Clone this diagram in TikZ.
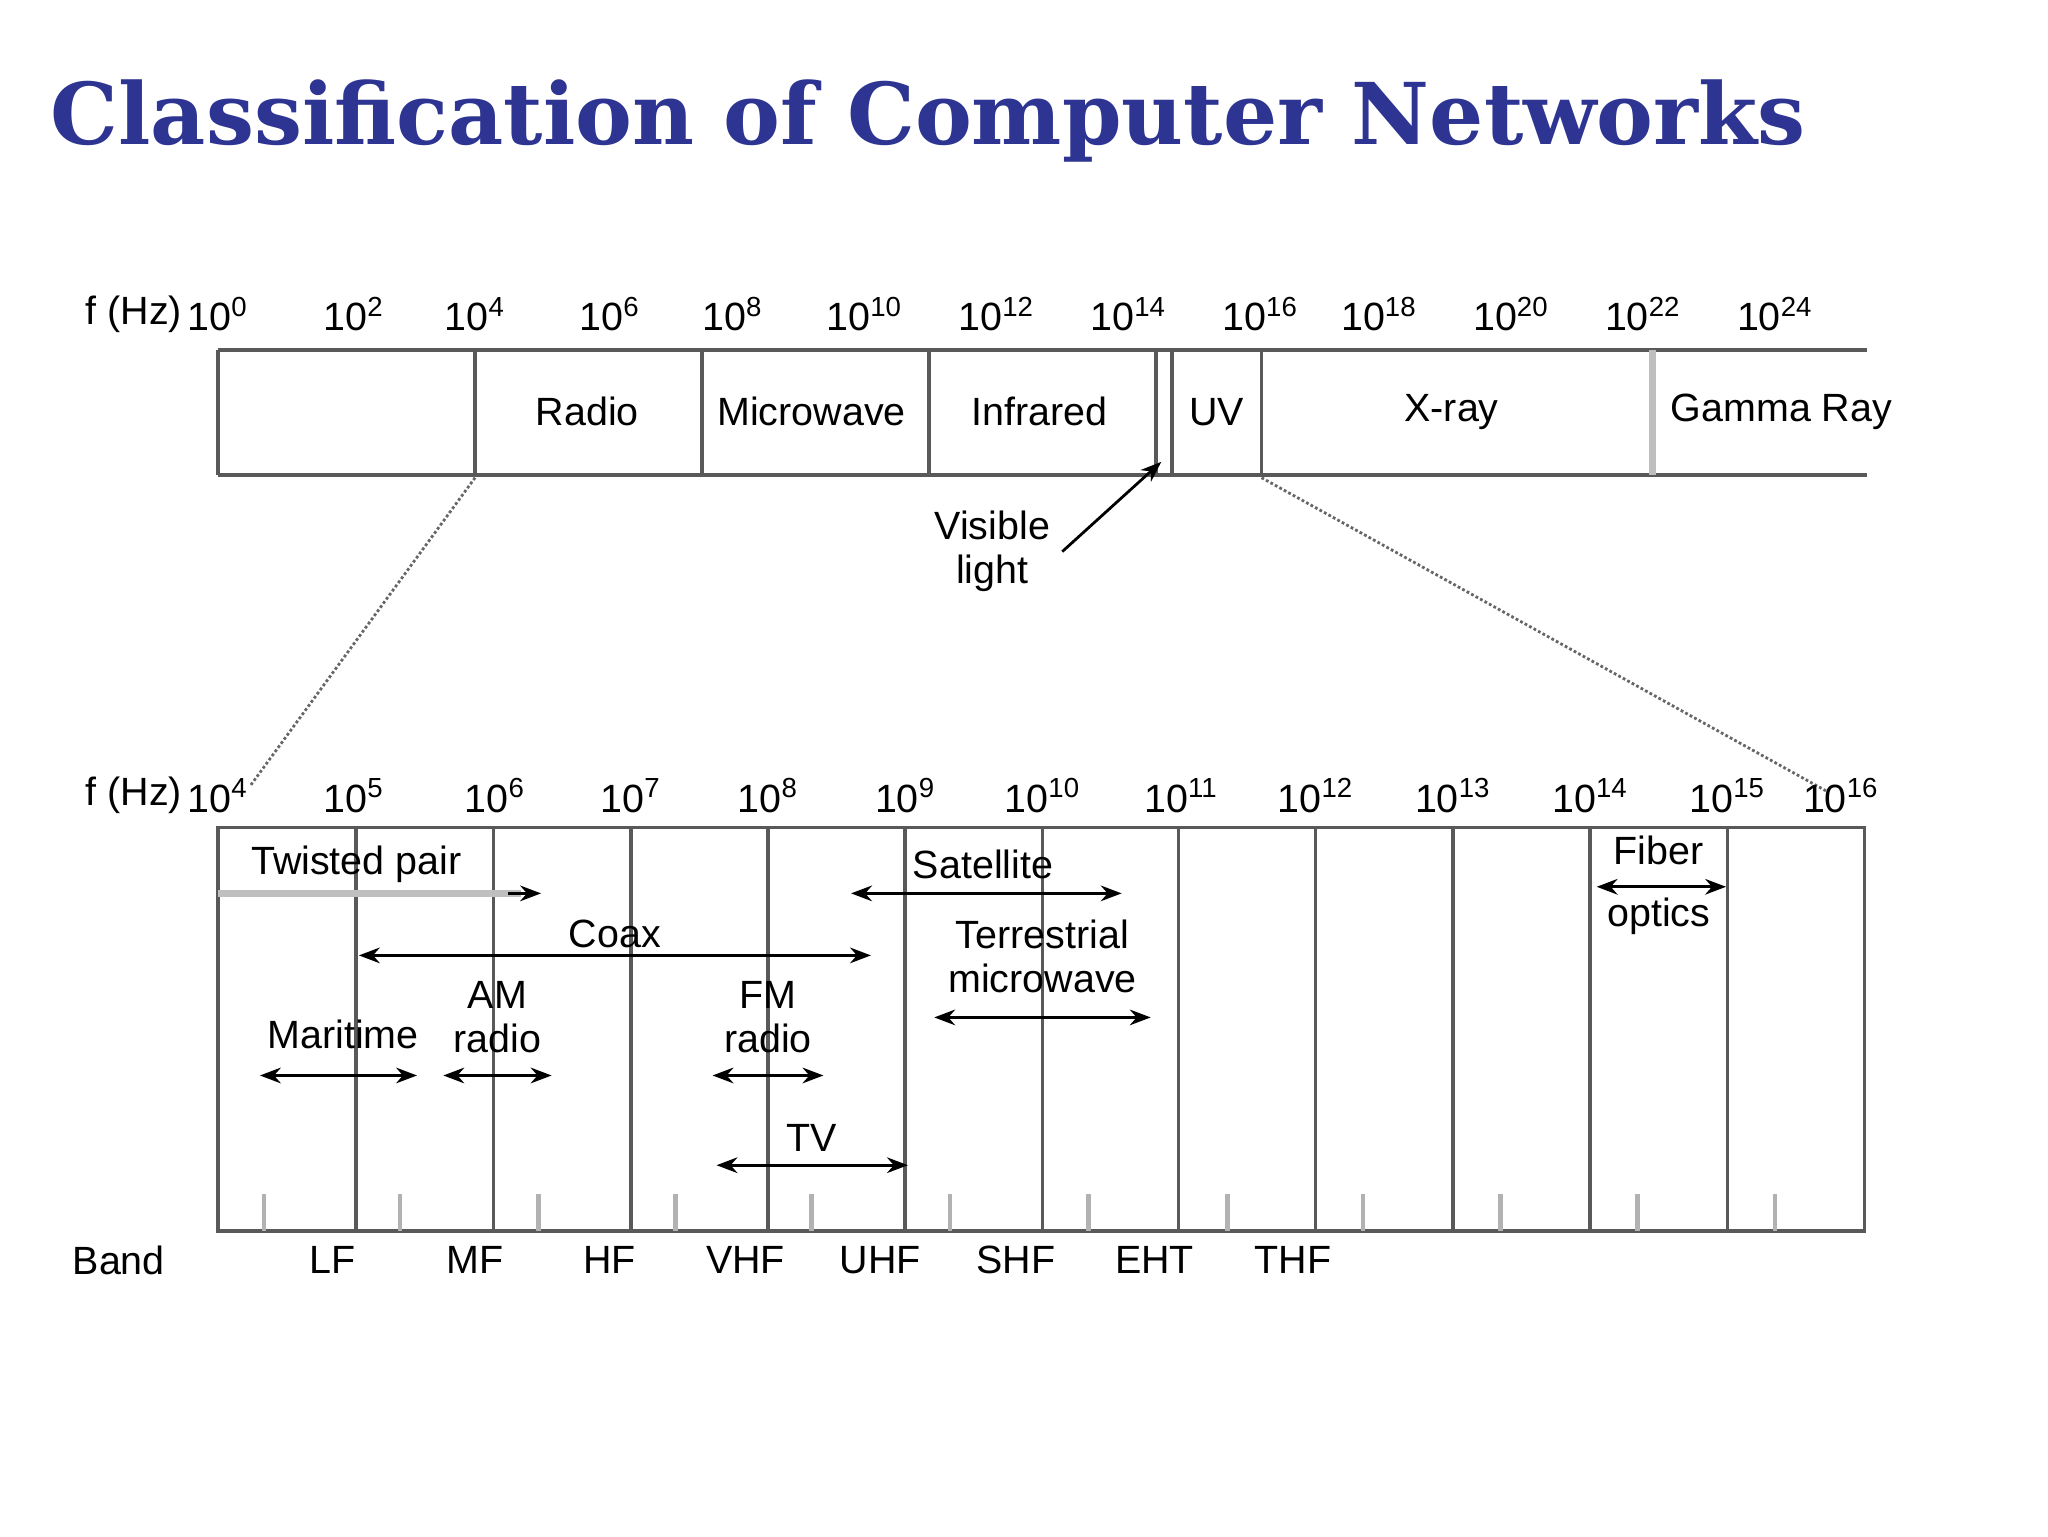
\documentclass[tikz,border=0pt]{standalone}
\usepackage{fontspec}
\setmainfont{Liberation Sans}
\newfontfamily\titlefont{DejaVu Serif}
\usetikzlibrary{arrows.meta}
\definecolor{ttl}{RGB}{45,52,145}
\newcommand{\pw}[1]{10\textsuperscript{#1}}
\begin{document}
\begin{tikzpicture}[x=0.02cm,y=-0.02cm,
  lbl/.style={font=\fontsize{17}{19}\selectfont,inner sep=1pt},
  ln/.style={line width=1.6pt,draw=black!65},
  rng/.style={line width=1.2pt,{Stealth[length=9pt]}-{Stealth[length=9pt]}},
  dots/.style={densely dotted,line width=1.2pt,draw=black!60}]
\useasboundingbox (0,0) rectangle (1552,1164);
\node[anchor=west,text=ttl,inner sep=0] (title) at (38,92) {\resizebox{26.6cm}{!}{\titlefont\bfseries Classification of Computer Networks}};
% top bar
\draw[ln] (165,265) -- (1415,265) (165,360) -- (1415,360) (165,265) -- (165,360);
\foreach \x in {360,532,704,876,888,956} \draw[ln] (\x,265) -- (\x,360);
\draw[line width=3pt,draw=black!25] (1252,265) -- (1252,360);
\node[lbl,anchor=east] (fa) at (140,238) {f (Hz)};
\foreach \x/\e in {165/0,268/2,360/4,462/6,555/8,655/10,755/12,855/14,955/16,1045/18,1145/20,1245/22,1345/24}
  \node[lbl] at (\x,238) {\pw{\e}};
\node[lbl] (radio) at (445,312) {Radio};
\node[lbl] (micro) at (615,312) {Microwave};
\node[lbl] (ir) at (788,312) {Infrared};
\node[lbl] (uv) at (922,312) {UV};
\node[lbl] (xr) at (1100,312) {X-ray};
\node[lbl] (gr) at (1350,312) {Gamma Ray};
\node[lbl,align=center] (vis) at (752,418) {Visible\\light};
\coordinate (vt) at (880,350);
\draw[line width=1.2pt,-{Stealth[length=9pt]}] (805,418) -- (vt);
\coordinate (a1) at (360,362); \coordinate (a2) at (190,595);
\coordinate (b1) at (956,362); \coordinate (b2) at (1385,600);
\draw[dots] (a1) -- (a2) (b1) -- (b2);
% bottom box
\draw[ln] (165,627) rectangle (1413,933);
\foreach \x in {270,374,478,582,686,790,893,997,1101,1205,1309} \draw[ln] (\x,627) -- (\x,933);
\foreach \x in {200,303,408,512,615,720,825,930,1033,1137,1241,1345} \draw[line width=2pt,draw=black!30] (\x,905) -- (\x,933);
\node[lbl,anchor=east] (fb) at (140,603) {f (Hz)};
\foreach \x/\e in {165/4,268/5,375/6,478/7,582/8,686/9,790/10,895/11,997/12,1101/13,1205/14,1309/15,1395/16}
  \node[lbl] at (\x,603) {\pw{\e}};
\node[lbl] (tp) at (270,655) {Twisted pair};
\draw[line width=3pt,draw=black!25] (165,677) -- (395,677);
\draw[line width=1.2pt,-{Stealth[length=9pt]}] (385,677) -- (410,677);
\node[lbl] (coax) at (466,708) {Coax};
\draw[rng] (272,724) -- (660,724);
\node[lbl] (sat) at (745,655) {Satellite};
\draw[rng] (645,677) -- (850,677);
\node[lbl,align=center] (ter) at (790,725) {Terrestrial\\microwave};
\draw[rng] (708,771) -- (872,771);
\node[lbl,align=center] (fib) at (1257,671) {Fiber\\[8pt]optics};
\draw[rng] (1210,672) -- (1308,672);
\node[lbl] (mar) at (260,784) {Maritime};
\draw[rng] (197,815) -- (316,815);
\node[lbl,align=center] (am) at (377,771) {AM\\radio};
\draw[rng] (336,815) -- (418,815);
\node[lbl,align=center] (fm) at (582,771) {FM\\radio};
\draw[rng] (540,815) -- (624,815);
\node[lbl] (tv) at (615,862) {TV};
\draw[rng] (543,883) -- (688,883);
\foreach \x/\t in {90/Band,252/LF,360/MF,462/HF,565/VHF,667/UHF,770/SHF,875/EHT,980/THF}
  \node[lbl] at (\x,955) {\t};
\end{tikzpicture}
\end{document}
